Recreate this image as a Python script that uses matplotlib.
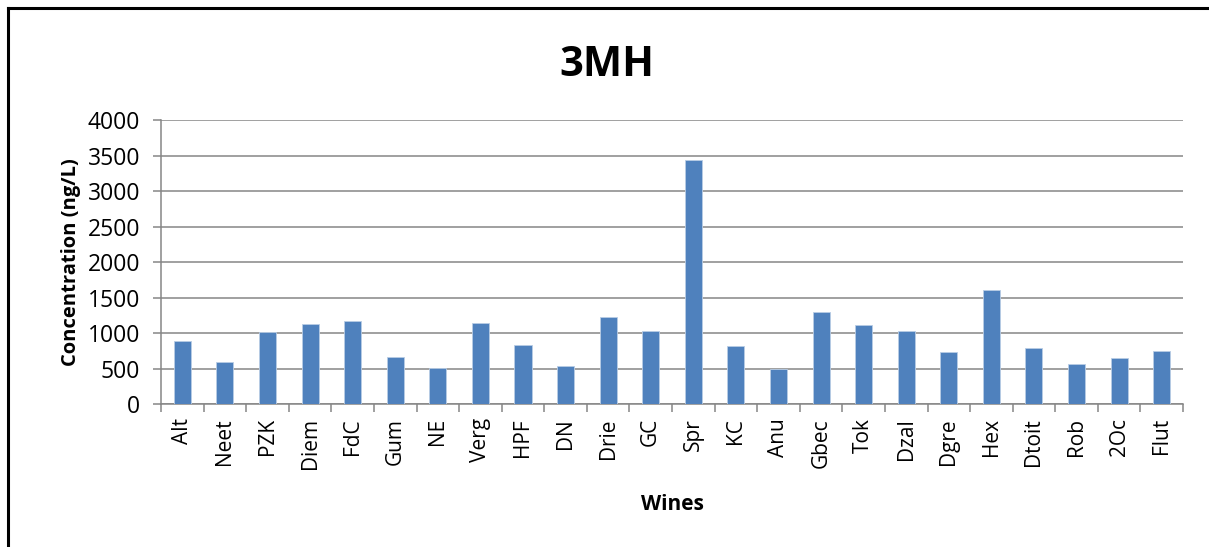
import numpy as np
import matplotlib.pyplot as plt
from matplotlib.lines import Line2D

wines = ["Alt", "Neet", "PZK", "Diem", "FdC", "Gum", "NE", "Verg", "HPF", "DN",
         "Drie", "GC", "Spr", "KC", "Anu", "Gbec", "Tok", "Dzal", "Dgre", "Hex",
         "Dtoit", "Rob", "2Oc", "Flut"]
conc = [890, 600, 1020, 1135, 1170, 665, 510, 1145, 835, 535,
        1225, 1032, 3445, 820, 500, 1295, 1115, 1037, 735, 1615,
        790, 565, 655, 752]
yticks = [0, 500, 1000, 1500, 2000, 2500, 3000, 3500, 4000]

plt.rcParams['font.family'] = ['Open Sans', 'DejaVu Sans']
grey = '#868686'

fig = plt.figure(figsize=(12.09, 5.47), dpi=100)
ax = fig.add_axes([0.1332, 0.2609, 0.8453, 0.5191])

x = np.arange(len(wines))
ax.bar(x, conc, width=0.4, color='#4f81bd', edgecolor='#b9cde5', linewidth=0.6, zorder=3)

ax.set_xlim(-0.5, len(wines) - 0.5)
ax.set_ylim(0, 4000)
ax.set_yticks(yticks)
ax.set_yticklabels([str(v) for v in yticks], fontsize=16.5)
ax.yaxis.grid(True, color=grey, linewidth=1.1, zorder=0)

ax.set_xticks(x)
ax.set_xticklabels(wines, rotation=90, fontsize=15)
ax.set_xticks(np.arange(len(wines) + 1) - 0.5, minor=True)
ax.tick_params(axis='x', which='major', length=0, pad=10)
ax.tick_params(axis='x', which='minor', length=6, width=1.1, color=grey, direction='out')
ax.tick_params(axis='y', length=6, width=1.1, color=grey, pad=9)

for s in ['top', 'right']:
    ax.spines[s].set_visible(False)
for s in ['left', 'bottom']:
    ax.spines[s].set_color(grey)
    ax.spines[s].set_linewidth(1.1)

ax.set_ylabel("Concentration (ng/L)", fontsize=14.5, fontweight='bold', labelpad=5)
fig.text(0.556, 0.077, "Wines", ha='center', va='center', fontsize=15, fontweight='bold')
fig.text(0.502, 0.881, "3MH", ha='center', va='center', fontsize=30, fontweight='bold')

# frame line along the top and left edges
fig.add_artist(Line2D([0.0067, 0.0067], [0, 0.985], color='black', linewidth=2.2,
                      transform=fig.transFigure, solid_capstyle='projecting'))
fig.add_artist(Line2D([0.0067, 1.0], [0.985, 0.985], color='black', linewidth=2.2,
                      transform=fig.transFigure, solid_capstyle='projecting'))

fig.savefig("out.png", dpi=100)
